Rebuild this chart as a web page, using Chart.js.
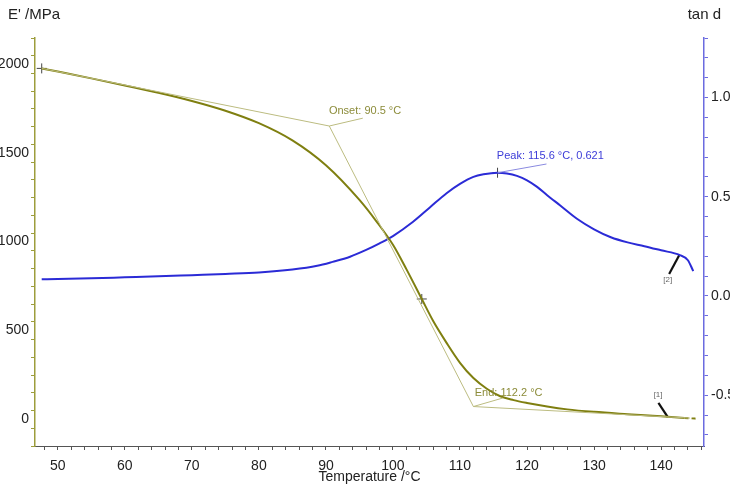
<!DOCTYPE html>
<html>
<head>
<meta charset="utf-8">
<script src="https://cdn.jsdelivr.net/npm/chart.js@4.4.1/dist/chart.umd.min.js"></script>
<style>
  html, body { margin: 0; padding: 0; background: #fff; }
  #wrap { width: 730px; height: 486px; }
</style>
</head>
<body>
<div id="wrap"><canvas id="dmaChart"></canvas></div>
<script>
// Storage modulus E' (MPa) vs temperature
const eTemp = [47.6, 50, 55, 60, 65, 70, 75, 80, 85, 90, 95, 97.5, 100, 102, 104.3, 106, 108, 110, 112, 114, 116, 118, 120, 123, 126, 130, 135, 140, 143.5, 145.5];
const eValues = [1974, 1956, 1918, 1878, 1837, 1791, 1736, 1666, 1569, 1429, 1234, 1115, 982, 845, 677, 553, 430, 318, 232, 172, 130, 108, 92, 72, 56, 42, 29, 17, 8, 3];

// Loss factor tan d vs temperature
const tanTemp = [47.6, 50, 55, 60, 65, 70, 75, 80, 85, 88.7, 91, 93.6, 96, 98, 100, 103, 105.5, 108, 110, 112, 113.5, 115.6, 117, 118.5, 120, 121.5, 123, 125, 127.5, 130, 132.5, 135, 137.5, 140, 142.8, 144, 144.8];
const tanValues = [0.084, 0.085, 0.089, 0.094, 0.099, 0.105, 0.111, 0.118, 0.133, 0.152, 0.172, 0.198, 0.232, 0.265, 0.302, 0.374, 0.446, 0.518, 0.565, 0.600, 0.613, 0.621, 0.617, 0.605, 0.583, 0.550, 0.508, 0.455, 0.388, 0.336, 0.296, 0.270, 0.251, 0.230, 0.206, 0.180, 0.125];

// Onset / end evaluation lines on E' (temperature, MPa)
const tangent1T = [47.6, 90.5];
const tangent1E = [1974, 1650];
const tangent2T = [90.5, 112.0];
const tangent2E = [1650, 72];
const baselineT = [112.0, 144.3];
const baselineE = [72, 7];
const onsetLeaderT = [90.5, 95.5];
const onsetLeaderE = [1650, 1694];
const endLeaderT = [112.0, 116.4];
const endLeaderE = [72, 120];

// Marker points
const crossET = [47.6, 104.3];
const crossEV = [1974, 677];
const peakT = [115.6];
const peakV = [0.621];
const peakLeaderT = [115.6, 122.9];
const peakLeaderV = [0.621, 0.665];

// Curve labels [1] and [2]
const mark1T = [139.6, 141.0];
const mark1E = [93, 12];
const mark2T = [142.7, 141.2];
const mark2V = [0.205, 0.111];

// Axis tick labels
const xTickLabels = [50, 60, 70, 80, 90, 100, 110, 120, 130, 140];
const eTickLabels = [0, 500, 1000, 1500, 2000];
const tanTickLabels = ['-0.5', '0.0', '0.5', '1.0'];

function pts(xs, ys) {
  return xs.map((x, i) => ({ x: x, y: ys[i] }));
}

const OLIVE = '#7f7f10';
const OLIVE_LIGHT = '#bcbc80';
const BLUE = '#2b2bd6';
const FONT = 'Liberation Sans, Arial, sans-serif';

// plugin: axis titles, left tick labels and annotation texts placed in data units
const textPlugin = {
  id: 'texts',
  afterDraw(chart) {
    const ctx = chart.ctx;
    const sx = chart.scales.x, se = chart.scales.yE, st = chart.scales.yT;
    ctx.save();
    ctx.textBaseline = 'middle';
    ctx.fillStyle = '#222';
    ctx.font = '15px ' + FONT;
    ctx.textAlign = 'left';
    ctx.fillText("E' /MPa", 8, 15);
    ctx.textAlign = 'right';
    ctx.fillText('tan d', 721, 15);

    // left axis labels
    ctx.font = '14px ' + FONT;
    ctx.textAlign = 'right';
    eTickLabels.forEach(v => ctx.fillText(String(v), se.left + se.width - 6, se.getPixelForValue(v)));

    ctx.font = '11px ' + FONT;
    ctx.textAlign = 'left';
    ctx.fillStyle = '#8c8c3a';
    ctx.fillText('Onset: 90.5 °C', sx.getPixelForValue(90.45), se.getPixelForValue(1735));
    ctx.fillText('End: 112.2 °C', sx.getPixelForValue(112.2), se.getPixelForValue(148));
    ctx.fillStyle = '#3c3cd8';
    ctx.fillText('Peak: 115.6 °C, 0.621', sx.getPixelForValue(115.5), st.getPixelForValue(0.705));

    ctx.font = '8px ' + FONT;
    ctx.textAlign = 'center';
    ctx.fillStyle = '#666';
    ctx.fillText('[1]', sx.getPixelForValue(139.55), se.getPixelForValue(137));
    ctx.fillText('[2]', sx.getPixelForValue(141.0), st.getPixelForValue(0.081));
    ctx.restore();
  }
};

function lineSet(data, color, width, axis) {
  return {
    data: data, yAxisID: axis, borderColor: color, borderWidth: width,
    pointRadius: 0, fill: false, tension: 0
  };
}

const ctx = document.getElementById('dmaChart').getContext('2d');
new Chart(ctx, {
  type: 'line',
  data: {
    datasets: [
      lineSet(pts(tangent1T, tangent1E), OLIVE_LIGHT, 1, 'yE'),
      lineSet(pts(tangent2T, tangent2E), OLIVE_LIGHT, 1, 'yE'),
      lineSet(pts(baselineT, baselineE), OLIVE_LIGHT, 1, 'yE'),
      lineSet(pts(onsetLeaderT, onsetLeaderE), OLIVE_LIGHT, 1, 'yE'),
      lineSet(pts(endLeaderT, endLeaderE), OLIVE_LIGHT, 1, 'yE'),
      lineSet(pts(peakLeaderT, peakLeaderV), '#8a8ae0', 1, 'yT'),
      {
        data: pts(eTemp, eValues), yAxisID: 'yE', borderColor: OLIVE, borderWidth: 2,
        pointRadius: 0, fill: false, cubicInterpolationMode: 'monotone',
        segment: { borderDash: c => c.p0.parsed.x >= 143.5 ? [4, 3] : undefined }
      },
      {
        data: pts(tanTemp, tanValues), yAxisID: 'yT', borderColor: BLUE, borderWidth: 2,
        pointRadius: 0, fill: false, cubicInterpolationMode: 'monotone'
      },
      lineSet(pts(mark1T, mark1E), '#111', 2.2, 'yE'),
      lineSet(pts(mark2T, mark2V), '#111', 2.2, 'yT'),
      {
        data: pts(crossET, crossEV), yAxisID: 'yE', showLine: false,
        pointStyle: 'cross', pointRadius: 5, borderColor: '#444', borderWidth: 1
      },
      {
        data: pts(peakT, peakV), yAxisID: 'yT', showLine: false,
        pointStyle: 'cross', pointRadius: 5, borderColor: '#444', borderWidth: 1
      }
    ]
  },
  options: {
    responsive: true,
    maintainAspectRatio: false,
    animation: false,
    layout: { padding: { top: 38, left: 0, right: 0, bottom: 0 } },
    plugins: { legend: { display: false }, tooltip: { enabled: false } },
    scales: {
      x: {
        type: 'linear', min: 46.6, max: 146.4,
        border: { display: true, color: '#555', width: 1 },
        grid: { drawOnChartArea: false, drawTicks: true, tickLength: 4, color: '#555' },
        ticks: {
          stepSize: 2, includeBounds: false, autoSkip: false, maxRotation: 0,
          padding: 8, color: '#222', font: { family: FONT, size: 14 },
          callback: v => xTickLabels.includes(Math.round(v)) && Math.abs(v - Math.round(v)) < 1e-6 ? String(Math.round(v)) : ''
        },
        title: { display: true, text: 'Temperature /°C', color: '#222', font: { family: FONT, size: 14 }, padding: { top: 0, bottom: 0 } },
        afterFit: s => { s.height = 40; }
      },
      yE: {
        type: 'linear', position: 'left', min: -150, max: 2145,
        border: { display: true, color: '#9d9d3c', width: 1.5 },
        grid: { drawOnChartArea: false, drawTicks: true, tickLength: 4, color: '#9d9d3c' },
        ticks: {
          stepSize: 100, includeBounds: false, autoSkip: false, padding: 2,
          color: '#222', font: { family: FONT, size: 14 },
          callback: () => ''
        },
        afterFit: s => { s.width = 35; }
      },
      yT: {
        type: 'linear', position: 'right', min: -0.756, max: 1.30,
        border: { display: true, color: '#6b6be0', width: 1.5 },
        grid: { drawOnChartArea: false, drawTicks: true, tickLength: 4, color: '#6b6be0' },
        ticks: {
          stepSize: 0.1, includeBounds: false, autoSkip: false, padding: 3,
          color: '#222', font: { family: FONT, size: 14 },
          callback: v => {
            const lbl = (Math.round(v * 10) / 10).toFixed(1);
            return tanTickLabels.includes(lbl) ? lbl : '';
          }
        },
        afterFit: s => { s.width = 26; }
      }
    }
  },
  plugins: [textPlugin]
});
</script>
</body>
</html>
